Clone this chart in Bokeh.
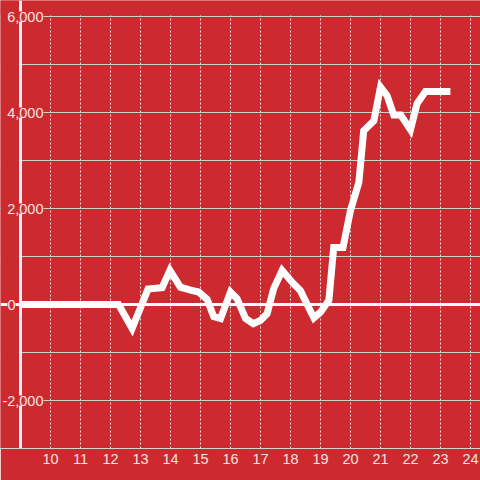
from bokeh.plotting import figure
from bokeh.models import FixedTicker, Range1d
from bokeh.core.properties import value
from bokeh.embed import file_html
from bokeh.resources import INLINE

# data series
x_vals = [9.0, 12.27, 12.72, 13.25, 13.72, 13.98, 14.33, 14.67, 14.94, 15.22, 15.44,
          15.67, 16.0, 16.22, 16.5, 16.76, 17.0, 17.22, 17.44, 17.72, 18.06, 18.33,
          18.78, 19.0, 19.28, 19.44, 19.75, 20.0, 20.28, 20.44, 20.78, 21.0, 21.22,
          21.44, 21.67, 22.0, 22.22, 22.5, 23.33]
y_vals = [0, 0, -500, 320, 350, 710, 360, 300, 260, 110, -250,
          -290, 260, 120, -290, -400, -330, -190, 330, 710, 460, 290,
          -280, -160, 90, 1190, 1190, 1960, 2550, 3620, 3830, 4530, 4350,
          3950, 3950, 3640, 4190, 4440, 4440]

x_ticks = list(range(10, 25))
y_grid = [-3000, -2000, -1000, 0, 1000, 2000, 3000, 4000, 5000, 6000]
y_label_vals = [6000, 4000, 2000, 0, -2000]
y_label_text = ["6,000", "4,000", "2,000", "0", "-2,000"]

X0, Y_TOP = 9, 6000          # axis origin (left) and top of value scale
PX_X, PX_Y = 30.0, 48 / 1000  # pixels per unit
XL = X0 - 20 / PX_X
YT = Y_TOP + 16 / PX_Y

BG = "#cc2a2e"
TXT = "#f6e2e2"
FONT = "Liberation Sans"
FS = "14.5px"

p = figure(width=480, height=480, output_backend="svg", toolbar_location=None,
           x_range=Range1d(XL, X0 + 460 / PX_X), y_range=Range1d(-3000, YT),
           min_border_left=0, min_border_right=0, min_border_top=0, min_border_bottom=32,
           background_fill_color=BG, border_fill_color=BG, outline_line_color=None)

p.yaxis.visible = False
ax = p.xaxis[0]
ax.ticker = FixedTicker(ticks=x_ticks)
ax.axis_line_color = "#d4d4d4"
ax.axis_line_width = 1
ax.major_tick_line_color = None
ax.minor_tick_line_color = None
ax.major_tick_out = 0
ax.major_tick_in = 0
ax.major_label_standoff = 5
ax.major_label_text_font_size = FS
ax.major_label_text_color = TXT
ax.major_label_text_font = FONT

p.xgrid.ticker = FixedTicker(ticks=x_ticks)
p.xgrid.grid_line_color = "#e6e6e6"
p.xgrid.grid_line_dash = "2 2"
p.xgrid.grid_line_width = 1
p.ygrid.ticker = FixedTicker(ticks=y_grid)
p.ygrid.grid_line_color = "#d0d0d0"
p.ygrid.grid_line_width = 1

# mask grid outside the plotting area (left of axis, above top line)
p.vstrip(x0=[XL], x1=[X0 - 1.5 / PX_X], fill_color=BG, line_color=None)
p.hstrip(y0=[Y_TOP + 0.6 / PX_Y], y1=[YT], fill_color=BG, line_color=None)

# zero line and vertical axis line
p.hspan(y=[0], line_color="white", line_width=3)
p.vspan(x=[X0], line_color="#f4f4f4", line_width=3)

p.line(x_vals, y_vals, line_color="white", line_width=7, line_join="miter")

lx = [X0 - 5 / PX_X if v == 0 else X0 + 23 / PX_X for v in y_label_vals]
p.text(x=lx, y=y_label_vals, text=y_label_text, text_align="right",
       text_baseline="middle", text_font_size=FS, text_font=value(FONT),
       text_color=TXT, background_fill_color=BG)

open("out.html", "w").write(file_html(p, INLINE))
